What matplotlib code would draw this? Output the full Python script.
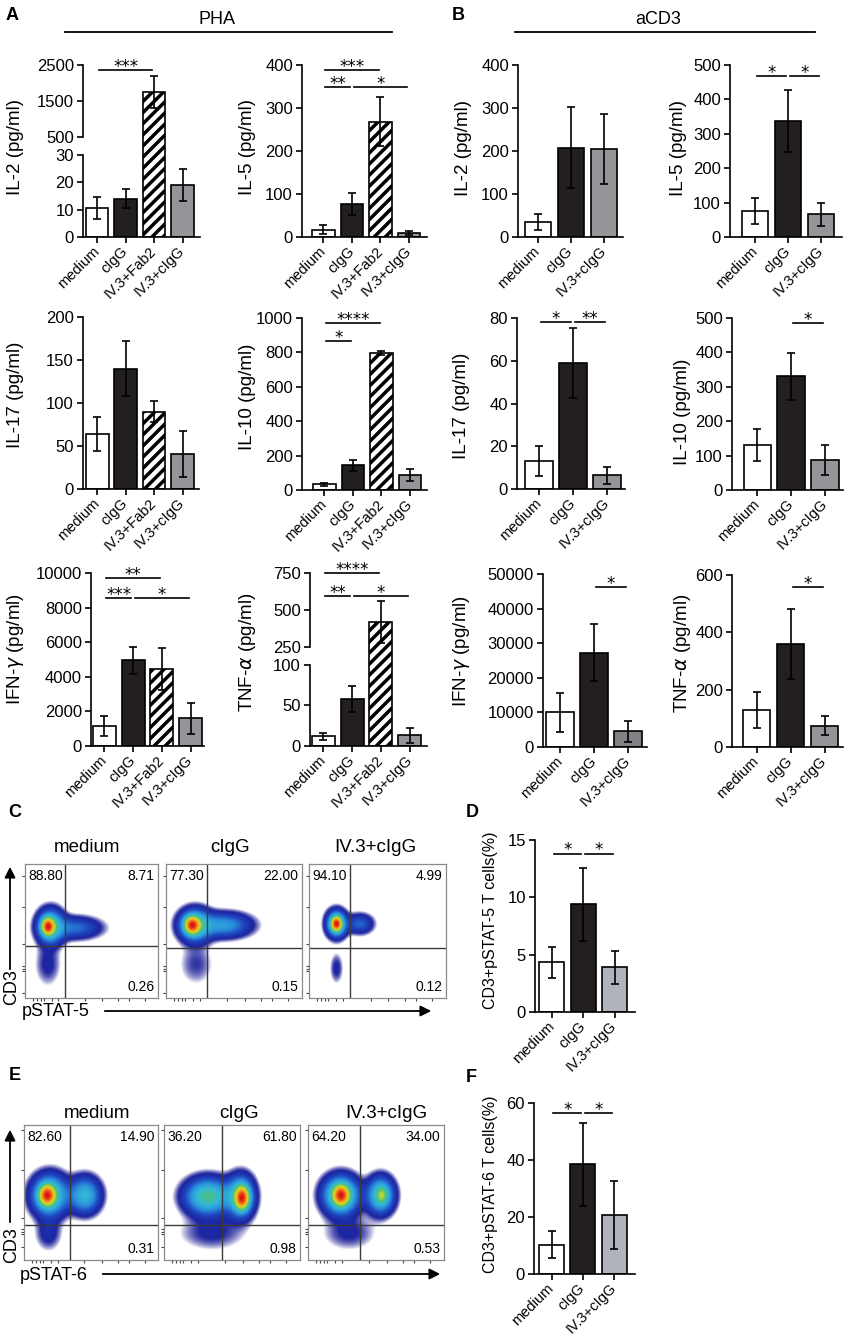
import numpy as np
import matplotlib
matplotlib.use('Agg')
import matplotlib.pyplot as plt
from matplotlib.colors import LinearSegmentedColormap
from matplotlib.patches import FancyArrowPatch
from matplotlib.lines import Line2D

plt.rcParams['font.family'] = ['Liberation Sans', 'DejaVu Sans']
plt.rcParams['hatch.linewidth'] = 2.5
plt.rcParams['axes.linewidth'] = 1.2

# ---------------- data ----------------
groups4 = ['medium', 'cIgG', 'IV.3+Fab2', 'IV.3+cIgG']
groups3 = ['medium', 'cIgG', 'IV.3+cIgG']

pha_il2 = [10.5, 14, 1750, 19]
pha_il2_err = [4, 3.5, 450, 5.8]
pha_il5 = [17, 77, 268, 9]
pha_il5_err = [11, 26, 57, 5.5]
pha_il17 = [64, 140, 90, 41]
pha_il17_err = [20, 32, 12, 27]
pha_il10 = [32, 143, 795, 87]
pha_il10_err = [10, 30, 13, 35]
pha_ifng = [1150, 4950, 4450, 1600]
pha_ifng_err = [560, 800, 1220, 880]
pha_tnfa = [12, 58, 420, 13]
pha_tnfa_err = [4, 16, 141, 9]

acd3_il2 = [35, 208, 205]
acd3_il2_err = [18, 94, 82]
acd3_il5 = [75, 338, 66]
acd3_il5_err = [38, 90, 34]
acd3_il17 = [13, 59, 6.5]
acd3_il17_err = [7, 16.5, 4]
acd3_il10 = [130, 330, 87]
acd3_il10_err = [46, 68, 44]
acd3_ifng = [10000, 27300, 4500]
acd3_ifng_err = [5700, 8200, 3100]
acd3_tnfa = [130, 360, 75]
acd3_tnfa_err = [62, 122, 33]

pstat5 = [4.35, 9.4, 3.9]
pstat5_err = [1.35, 3.2, 1.43]
pstat6 = [10.3, 38.5, 20.7]
pstat6_err = [4.7, 14.5, 12]

flow_titles = ['medium', 'cIgG', 'IV.3+cIgG']
stat5_quadrants = [['88.80', '8.71', '0.26'], ['77.30', '22.00', '0.15'], ['94.10', '4.99', '0.12']]
stat6_quadrants = [['82.60', '14.90', '0.31'], ['36.20', '61.80', '0.98'], ['64.20', '34.00', '0.53']]

# population blobs (cx, cy, sx, sy, weight) in gate-fraction units
stat5_blobs = [
    [(0.17, 0.53, 0.028, 0.038, 1.0), (0.19, 0.53, 0.06, 0.075, 0.4),
     (0.37, 0.52, 0.12, 0.05, 0.16), (0.17, 0.25, 0.06, 0.1, 0.05)],
    [(0.19, 0.54, 0.033, 0.038, 1.0), (0.21, 0.54, 0.07, 0.07, 0.42),
     (0.42, 0.54, 0.12, 0.055, 0.24), (0.22, 0.25, 0.08, 0.1, 0.04)],
    [(0.20, 0.55, 0.024, 0.033, 1.0), (0.20, 0.55, 0.045, 0.06, 0.38),
     (0.37, 0.55, 0.06, 0.045, 0.14), (0.20, 0.22, 0.03, 0.07, 0.05)],
]
stat6_blobs = [
    [(0.17, 0.48, 0.035, 0.045, 1.0), (0.19, 0.48, 0.08, 0.09, 0.45),
     (0.45, 0.48, 0.07, 0.08, 0.32), (0.18, 0.20, 0.06, 0.08, 0.06)],
    [(0.57, 0.46, 0.03, 0.05, 1.0), (0.56, 0.47, 0.06, 0.09, 0.45),
     (0.32, 0.47, 0.10, 0.08, 0.45), (0.35, 0.20, 0.15, 0.08, 0.05)],
    [(0.24, 0.48, 0.035, 0.045, 1.0), (0.24, 0.48, 0.08, 0.085, 0.5),
     (0.53, 0.48, 0.06, 0.08, 0.42), (0.54, 0.48, 0.025, 0.04, 0.25), (0.30, 0.20, 0.12, 0.08, 0.05)],
]
stat5_gates = [(0.30, 0.39), (0.30, 0.37), (0.30, 0.37)]
stat6_gates = [(0.34, 0.26), (0.43, 0.26), (0.38, 0.26)]

# ---------------- layout helpers ----------------
W, H = 846, 1339
fig = plt.figure(figsize=(W / 100, H / 100), dpi=100)


def add_ax(l, t, r, b):
    return fig.add_axes([l / W, 1 - b / H, (r - l) / W, (b - t) / H])


def ftext(x, y, s, **kw):
    return fig.text(x / W, 1 - y / H, s, **kw)


def fline(x1, x2, y, lw=1.3):
    fig.add_artist(Line2D([x1 / W, x2 / W], [1 - y / H, 1 - y / H],
                          transform=fig.transFigure, color='black', lw=lw))


WHITE, BLACK, GRAY = '#ffffff', '#231f20', '#939598'
colors4 = [WHITE, BLACK, WHITE, GRAY]
hatch4 = [None, None, '///', None]


def style_ax(ax, ticks):
    ax.spines['top'].set_visible(False)
    ax.spines['right'].set_visible(False)
    ax.set_yticks(ticks)
    ax.tick_params(axis='both', direction='out', length=4.5, width=1.2,
                   labelsize=12, pad=2)
    ax.set_facecolor('white')


def draw_bars(ax, vals, errs, colors, hatches):
    x = np.arange(len(vals))
    for xi, v, c, h in zip(x, vals, colors, hatches):
        ax.bar(xi, v, width=0.8, color=c, edgecolor='black', linewidth=1.2, hatch=h, zorder=2)
    ax.errorbar(x, vals, yerr=errs, fmt='none', ecolor='black', elinewidth=1.2,
                capsize=2.6, capthick=1.2, zorder=3)


def set_xlabels(ax, labels):
    ax.set_xticks(np.arange(len(labels)))
    ax.set_xticklabels(labels, rotation=45, ha='right', va='center',
                       rotation_mode='anchor', fontsize=10.5)
    ax.tick_params(axis='x', pad=4)


def sig(ax, i, j, y, label):
    ax.plot([i + 0.06, j - 0.06], [y, y], color='black', lw=1.2, clip_on=False, zorder=4)
    ax.annotate(label, xy=((i + j) / 2, y), xytext=(0, -1.2), textcoords='offset points',
                ha='center', va='baseline', fontsize=12, family='DejaVu Sans',
                annotation_clip=False)


def simple_panel(box, vals, errs, colors, hatches, labels, ylim, ticks, xlim, ylab, ylab_xy, ylab_fs=13.5):
    ax = add_ax(*box)
    draw_bars(ax, vals, errs, colors, hatches)
    ax.set_ylim(*ylim)
    ax.set_xlim(*xlim)
    style_ax(ax, ticks)
    set_xlabels(ax, labels)
    ftext(ylab_xy[0], ylab_xy[1], ylab, rotation=90, ha='center', va='center', fontsize=ylab_fs)
    return ax


def broken_panel(box_up, box_lo, vals, errs, colors, hatches, labels, ylim_up, ylim_lo,
                 ticks_up, ticks_lo, xlim, gap_units, ylab, ylab_xy):
    up = add_ax(*box_up)
    up.set_ylim(*ylim_up)
    up.set_xlim(*xlim)
    base = ylim_up[0] - 2 * gap_units
    idx = [k for k, v in enumerate(vals) if v > ylim_lo[1]]
    for k in idx:
        b = up.bar(k, vals[k] - base, bottom=base, width=0.8, color=colors[k], edgecolor='black',
                   linewidth=1.2, hatch=hatches[k], zorder=2)
        for p in b:
            p.set_clip_on(False)
        up.errorbar([k], [vals[k]], yerr=[errs[k]], fmt='none', ecolor='black',
                    elinewidth=1.2, capsize=2.6, capthick=1.2, zorder=3)
    style_ax(up, ticks_up)
    up.spines['bottom'].set_visible(False)
    up.set_xticks([])
    up.set_facecolor('none')
    lo = add_ax(*box_lo)
    draw_bars(lo, vals, errs, colors, hatches)
    lo.set_ylim(*ylim_lo)
    lo.set_xlim(*xlim)
    style_ax(lo, ticks_lo)
    set_xlabels(lo, labels)
    ftext(ylab_xy[0], ylab_xy[1], ylab, rotation=90, ha='center', va='center', fontsize=13.5)
    return up, lo


# ---------------- headers ----------------
for s, x, y in [('A', 12, 15), ('B', 458, 15), ('C', 15, 812), ('D', 472, 812),
                ('E', 15, 1075), ('F', 471, 1077)]:
    ftext(x, y, s, fontsize=13, fontweight='bold', ha='center', va='center')
ftext(217, 20, 'PHA', fontsize=13, ha='center', va='center')
fline(65, 392, 32)
ftext(658, 20, 'aCD3', fontsize=13, ha='center', va='center')
fline(515, 815, 32)

# ---------------- panel A ----------------
up, lo = broken_panel((83, 65, 200, 137), (83, 155, 200, 237), pha_il2, pha_il2_err, colors4, hatch4,
                      groups4, (500, 2500), (0, 30), [500, 1500, 2500], [0, 10, 20, 30],
                      (-0.49, 3.61), 500, 'IL-2 (pg/ml)', (16, 147))
sig(up, 0, 2, 2361, '***')

ax = simple_panel((302, 65, 427, 237), pha_il5, pha_il5_err, colors4, hatch4, groups4,
                  (0, 400), [0, 100, 200, 300, 400], (-0.75, 3.63), 'IL-5 (pg/ml)', (247, 147))
sig(ax, 0, 2, 388, '***')
sig(ax, 0, 1, 349, '**')
sig(ax, 1, 3, 349, '*')

ax = simple_panel((83, 317, 199, 489), pha_il17, pha_il17_err, colors4, hatch4, groups4,
                  (0, 200), [0, 50, 100, 150, 200], (-0.5, 3.58), 'IL-17 (pg/ml)', (15, 395))

ax = simple_panel((302, 318, 427, 490), pha_il10, pha_il10_err, colors4, hatch4, groups4,
                  (0, 1000), [0, 200, 400, 600, 800, 1000], (-0.79, 3.6), 'IL-10 (pg/ml)', (247, 397))
sig(ax, 0, 2, 971, '****')
sig(ax, 0, 1, 866, '*')

ax = simple_panel((91, 573, 204, 746), pha_ifng, pha_ifng_err, colors4, hatch4, groups4,
                  (0, 10000), [0, 2000, 4000, 6000, 8000, 10000], (-0.47, 3.47),
                  'IFN-$\\gamma$ (pg/ml)', (16, 649))
sig(ax, 0, 2, 9711, '**')
sig(ax, 0, 1, 8555, '***')
sig(ax, 1, 3, 8555, '*')

up, lo = broken_panel((310, 573, 427, 647), (310, 665, 427, 746), pha_tnfa, pha_tnfa_err, colors4, hatch4,
                      groups4, (250, 750), (0, 100), [250, 500, 750], [0, 50, 100],
                      (-0.46, 3.6), 122, 'TNF-$\\alpha$ (pg/ml)', (247, 652))
sig(up, 0, 2, 750, '****')
sig(up, 0, 1, 595, '**')
sig(up, 1, 3, 595, '*')

# ---------------- panel B ----------------
colors3 = [WHITE, BLACK, GRAY]
hatch3 = [None, None, None]

ax = simple_panel((518, 65, 623, 237), acd3_il2, acd3_il2_err, colors3, hatch3, groups3,
                  (0, 400), [0, 100, 200, 300, 400], (-0.6, 2.58), 'IL-2 (pg/ml)', (463, 148))

ax = simple_panel((730, 65, 842, 237), acd3_il5, acd3_il5_err, colors3, hatch3, groups3,
                  (0, 500), [0, 100, 200, 300, 400, 500], (-0.76, 2.64), 'IL-5 (pg/ml)', (678, 148))
sig(ax, 0, 1, 468, '*')
sig(ax, 1, 2, 468, '*')

ax = simple_panel((517, 318, 625, 489), acd3_il17, acd3_il17_err, colors3, hatch3, groups3,
                  (0, 80), [0, 20, 40, 60, 80], (-0.65, 2.53), 'IL-17 (pg/ml)', (461, 406))
sig(ax, 0, 1, 78.1, '*')
sig(ax, 1, 2, 78.1, '**')

ax = simple_panel((732, 318, 843, 490), acd3_il10, acd3_il10_err, colors3, hatch3, groups3,
                  (0, 500), [0, 100, 200, 300, 400, 500], (-0.74, 2.53), 'IL-10 (pg/ml)', (682, 412))
sig(ax, 1, 2, 485, '*')

ax = simple_panel((543, 574, 647, 747), acd3_ifng, acd3_ifng_err, [WHITE, BLACK, '#808285'], hatch3,
                  groups3, (0, 50000), [0, 10000, 20000, 30000, 40000, 50000], (-0.5, 2.56),
                  'IFN-$\\gamma$ (pg/ml)', (461, 651))
sig(ax, 1, 2, 46240, '*')

ax = simple_panel((732, 575, 843, 747), acd3_tnfa, acd3_tnfa_err, colors3, hatch3, groups3,
                  (0, 600), [0, 200, 400, 600], (-0.72, 2.54), 'TNF-$\\alpha$ (pg/ml)', (682, 653))
sig(ax, 1, 2, 558, '*')

# ---------------- panels D, F ----------------
colorsDF = [WHITE, BLACK, '#b1b3bb']
ax = simple_panel((535, 840, 635, 1012), pstat5, pstat5_err, colorsDF, hatch3, groups3,
                  (0, 15), [0, 5, 10, 15], (-0.54, 2.65), 'CD3+pSTAT-5 T cells(%)', (490, 920), 11.5)
sig(ax, 0, 1, 13.8, '*')
sig(ax, 1, 2, 13.8, '*')

ax = simple_panel((534, 1103, 635, 1274), pstat6, pstat6_err, colorsDF, hatch3, groups3,
                  (0, 60), [0, 20, 40, 60], (-0.56, 2.67), 'CD3+pSTAT-6 T cells(%)', (490, 1184), 11.5)
sig(ax, 0, 1, 56.5, '*')
sig(ax, 1, 2, 56.5, '*')

# ---------------- flow panels ----------------
flow_cmap = LinearSegmentedColormap.from_list(
    'flow', ['#1c1c96', '#1f45c0', '#2a8fdc', '#33b8d8', '#4cc07a', '#c8dc28', '#f2b020', '#ee5a18', '#d81010'])


def density(blobs, n=260):
    xs = np.linspace(0, 1, n)
    X, Y = np.meshgrid(xs, xs)
    D = np.zeros_like(X)
    for cx, cy, sx, sy, w in blobs:
        D += w * np.exp(-((X - cx) ** 2 / (2 * sx ** 2) + (Y - cy) ** 2 / (2 * sy ** 2)))
    return D / D.max()


def flow_panel(box, blobs, gate, nums, title, title_xy, lticks, bticks):
    ax = add_ax(*box)
    v = density(blobs)
    vmin = 0.01
    c = np.clip(1 - np.log(np.maximum(v, 1e-12)) / np.log(vmin), 0, 1) ** 2.5
    rgba = flow_cmap(c)
    rgba[..., 3] = np.clip(np.log(np.maximum(v, 1e-12) / vmin) / np.log(3), 0, 1)
    ax.imshow(rgba, origin='lower', extent=(0, 1, 0, 1), interpolation='bilinear', aspect='auto')
    ax.set_xlim(0, 1)
    ax.set_ylim(0, 1)
    ax.axvline(gate[0], color='#3a3a3a', lw=1.0)
    ax.axhline(gate[1], color='#3a3a3a', lw=1.0)
    for s in ax.spines.values():
        s.set_color('#8a8a8a')
        s.set_linewidth(0.9)
    ax.set_yticks(lticks)
    ax.set_xticks(bticks)
    ax.set_xticklabels([])
    ax.set_yticklabels([])
    ax.tick_params(length=2.5, width=0.8, color='#444444')
    ax.text(0.025, 0.965, nums[0], transform=ax.transAxes, ha='left', va='top', fontsize=10)
    ax.text(0.975, 0.965, nums[1], transform=ax.transAxes, ha='right', va='top', fontsize=10)
    ax.text(0.975, 0.03, nums[2], transform=ax.transAxes, ha='right', va='bottom', fontsize=10)
    ftext(title_xy[0], title_xy[1], title, ha='center', va='center', fontsize=13.5)


c_boxes = [(25, 864, 158, 998), (166, 864, 302, 998), (309, 864, 446, 998)]
c_title_xy = [(87, 847), (230, 847), (375, 847)]
e_boxes = [(24, 1125, 158, 1260), (164, 1125, 300, 1260), (308, 1125, 444, 1260)]
e_title_xy = [(97, 1113), (239, 1113), (386, 1113)]
lt5 = [0.04, 0.2, 0.22, 0.24, 0.40, 0.68, 0.91]
lt6 = [0.10, 0.19, 0.21, 0.23, 0.31, 0.67, 0.96]
bt = [0.06, 0.09, 0.12, 0.14, 0.2, 0.25, 0.45, 0.58, 0.7, 0.78, 0.9]

for k in range(3):
    flow_panel(c_boxes[k], stat5_blobs[k], stat5_gates[k], stat5_quadrants[k], flow_titles[k],
               c_title_xy[k], lt5, bt)
    flow_panel(e_boxes[k], stat6_blobs[k], stat6_gates[k], stat6_quadrants[k], flow_titles[k],
               e_title_xy[k], lt6, bt)


def farrow(x1, y1, x2, y2):
    a = FancyArrowPatch((x1 / W, 1 - y1 / H), (x2 / W, 1 - y2 / H), transform=fig.transFigure,
                        arrowstyle='-|>', mutation_scale=16, lw=1.3, color='black')
    fig.add_artist(a)


farrow(10, 972, 10, 864)
ftext(12, 987, 'CD3', rotation=90, ha='center', va='center', fontsize=13)
ftext(22, 1012, 'pSTAT-5', ha='left', va='center', fontsize=13)
farrow(102, 1011, 434, 1011)
farrow(10, 1225, 10, 1127)
ftext(12, 1245, 'CD3', rotation=90, ha='center', va='center', fontsize=13)
ftext(20, 1275, 'pSTAT-6', ha='left', va='center', fontsize=13)
farrow(100, 1274, 443, 1274)

fig.savefig('out.png', dpi=100)
